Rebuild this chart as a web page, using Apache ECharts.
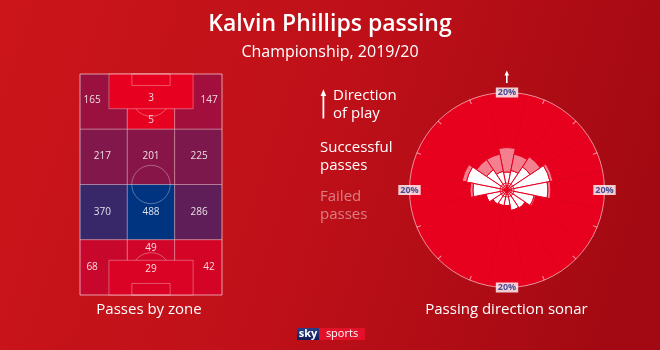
<!DOCTYPE html>
<html>
<head>
<meta charset="utf-8">
<script src="https://cdn.jsdelivr.net/npm/echarts@6/dist/echarts.min.js"></script>
<style>html,body{margin:0;padding:0;}#c{width:660px;height:350px;}</style>
</head>
<body>
<div id="c"></div>
<script>
// ---------- DATA ----------
const zoneNames = ['Final third left','Final third centre','Final third right','Opp. box',
  'Att. mid left','Att. mid centre','Att. mid right',
  'Def. mid left','Def. mid centre','Def. mid right',
  'Def. third left','Def. third centre','Def. third right','Own box'];
const zoneValues = [165, 5, 147, 3, 217, 201, 225, 370, 488, 286, 68, 49, 42, 29];

const sonarDirections = ['N','NNE','NE','ENE','E','ESE','SE','SSE','S','SSW','SW','WSW','W','WNW','NW','NNW'];
const successfulPct = [3.7, 4.1, 5.7, 9.0, 8.4, 5.7, 4.5, 4.3, 3.2, 3.3, 3.5, 4.4, 7.0, 8.5, 5.0, 3.9];
const failedPct     = [5.0, 3.4, 2.5, 0.6, 0.6, 0.3, 0, 0, 0, 0, 0, 0, 0.6, 0.9, 2.5, 3.6];
const sonarScaleLabel = '20%';
const sonarScaleDirections = ['N','E','S','W'];
const sonarMax = 20;

// ---------- LAYOUT (pitch units: 68 wide x 105 long, y=0 attacking goal line) ----------
const PW = 68, PL = 105, c1 = PW/3, c2 = 2*PW/3, rw = PL/4;
const boxL = 13.84, boxR = 54.16, boxD = 16.5;
const zoneRects = [
  [0,0,c1,rw],[c1,0,c2,rw],[c2,0,PW,rw],[boxL,0,boxR,boxD],
  [0,rw,c1,2*rw],[c1,rw,c2,2*rw],[c2,rw,PW,2*rw],
  [0,2*rw,c1,3*rw],[c1,2*rw,c2,3*rw],[c2,2*rw,PW,3*rw],
  [0,3*rw,c1,PL],[c1,3*rw,c2,PL],[c2,3*rw,PW,PL],[boxL,PL-boxD,boxR,PL]
];
const zoneLabelPos = [
  [5.8,12.4],[34,21.9],[61.8,12.4],[34,11.4],
  [10.7,39],[34,39],[57,39],
  [10.7,65.6],[34,65.6],[57,65.6],
  [5.8,91.7],[34,82.7],[61.8,91.7],[34,92.8]
];

const lineCol = 'rgba(255,255,255,0.32)';

const chart = echarts.init(document.getElementById('c'), null, {renderer:'canvas'});
const FONT = '"Open Sans", "DejaVu Sans", sans-serif';

function zoneRender(params, api){
  const i = params.dataIndex;
  const r = zoneRects[i];
  const p0 = api.coord([r[0], r[1]]), p1 = api.coord([r[2], r[3]]);
  const lp = api.coord(zoneLabelPos[i]);
  return {type:'group', children:[
    {type:'rect', shape:{x:Math.min(p0[0],p1[0]), y:Math.min(p0[1],p1[1]), width:Math.abs(p1[0]-p0[0]), height:Math.abs(p1[1]-p0[1])},
     style:{fill: api.visual('color'), stroke: lineCol, lineWidth: 1}},
    {type:'text', x: lp[0], y: lp[1], style:{text: String(api.value(0)), fill:'rgba(255,255,255,0.85)', font:'10px '+FONT, align:'center', verticalAlign:'middle'}}
  ]};
}

function pitchRender(params, api){
  const st = {fill:'none', stroke: lineCol, lineWidth: 1};
  const R = 9.15;
  const rpx = (api.size([R, R])[0] + api.size([R, R])[1]) / 2;
  const pt = (x,y)=>api.coord([x,y]);
  const rect = (x0,y0,x1,y1)=>{const a=pt(x0,y0), b=pt(x1,y1); return {type:'rect', shape:{x:Math.min(a[0],b[0]), y:Math.min(a[1],b[1]), width:Math.abs(b[0]-a[0]), height:Math.abs(b[1]-a[1])}, style:st};};
  const ang = Math.acos(5.5/R);
  const topSpot = pt(34, 11), botSpot = pt(34, PL-11), mid = pt(34, PL/2);
  return {type:'group', children:[
    rect(0,0,PW,PL),
    rect(24.84,0,43.16,5.5),
    rect(24.84,PL-5.5,43.16,PL),
    {type:'arc', shape:{cx:topSpot[0], cy:topSpot[1], r:rpx, startAngle:Math.PI/2-ang, endAngle:Math.PI/2+ang, clockwise:true}, style:st},
    {type:'arc', shape:{cx:botSpot[0], cy:botSpot[1], r:rpx, startAngle:-Math.PI/2-ang, endAngle:-Math.PI/2+ang, clockwise:true}, style:st},
    {type:'circle', shape:{cx:mid[0], cy:mid[1], r:rpx}, style:st}
  ]};
}

const txt = (t, x, y, size, color, extra) => ({type:'text', x:x, y:y, style:Object.assign({text:t, fill:color, font: size+'px '+FONT, textVerticalAlign:'middle'}, extra||{})});

// tick marks on the sonar rim, one per direction
const rimTicks = sonarDirections.map((d, i) => ({value:[sonarMax - 0.45, d], symbolRotate: -22.5 * i}));

const option = {
  backgroundColor: {type:'linear', x:0, y:0, x2:1, y2:0.6, colorStops:[{offset:0, color:'#cb151a'},{offset:0.5,color:'#bf1019'},{offset:1, color:'#a20912'}]},
  animation: false,
  title: [
    {text:'Kalvin Phillips passing', left:'center', top:8, textStyle:{color:'#fff', fontSize:23, fontWeight:600, fontFamily:FONT}},
    {text:'Championship, 2019/20', left:'center', top:39, textStyle:{color:'#fff', fontSize:16, fontWeight:'normal', fontFamily:FONT}}
  ],
  grid: {left:80, top:74, width:142, height:221},
  xAxis: {type:'value', min:0, max:PW, show:false},
  yAxis: {type:'value', min:0, max:PL, inverse:true, show:false},
  visualMap: {show:false, type:'continuous', min:0, max:488, dimension:0, seriesIndex:0, inRange:{color:['#e8001f','#003380']}},
  polar: {center:[507,190], radius:97.5},
  angleAxis: {type:'category', data:sonarDirections, startAngle:101.25, clockwise:true, boundaryGap:true,
    axisLine:{show:true, lineStyle:{color:'rgba(255,255,255,0.55)', width:1}},
    axisTick:{show:false},
    axisLabel:{show:false}, splitLine:{show:false},
    splitArea:{show:true, areaStyle:{color:['#e8001f','#e8001f']}}},
  radiusAxis: {type:'value', min:0, max:sonarMax, show:false, splitLine:{show:false}, axisLine:{show:false}, axisLabel:{show:false}, axisTick:{show:false}},
  series: [
    {type:'custom', name:'zones', coordinateSystem:'cartesian2d', renderItem: zoneRender,
      data: zoneValues.map((v,i)=>({name:zoneNames[i], value:[v, i]})), encode:{x:-1, y:-1}, silent:true, z:2},
    {type:'custom', name:'pitch', coordinateSystem:'cartesian2d', renderItem: pitchRender, data:[[0,0]], silent:true, z:3},
    {type:'bar', name:'Successful passes', coordinateSystem:'polar', stack:'sonar', data: successfulPct, barCategoryGap:'0%',
      itemStyle:{color:'#ffffff', borderColor:'#e8001f', borderWidth:1}, z:4, silent:true},
    {type:'bar', name:'Failed passes', coordinateSystem:'polar', stack:'sonar', data: failedPct, barCategoryGap:'0%',
      itemStyle:{color:'rgba(255,255,255,0.5)', borderColor:'#e8001f', borderWidth:1}, z:4, silent:true},
    {type:'scatter', coordinateSystem:'polar', data: rimTicks, symbol:'rect', symbolSize:[1,4.5], itemStyle:{color:'rgba(255,255,255,0.75)'}, z:5, silent:true},
    {type:'scatter', coordinateSystem:'polar', data:[[0,'N']], symbol:'circle', symbolSize:4, itemStyle:{color:'#e8001f'}, z:6, silent:true},
    {type:'scatter', coordinateSystem:'polar', data:[[0,'N']], symbol:'circle', symbolSize:9, itemStyle:{color:'rgba(0,0,0,0)', borderColor:'#e8001f', borderWidth:1.2}, z:6, silent:true},
    {type:'scatter', coordinateSystem:'polar', data:[[0,'N']], symbol:'circle', symbolSize:14, itemStyle:{color:'rgba(0,0,0,0)', borderColor:'#e8001f', borderWidth:1.2}, z:6, silent:true},
    {type:'scatter', coordinateSystem:'polar', data: sonarScaleDirections.map(d=>[sonarMax, d]), symbolSize:1, itemStyle:{color:'rgba(0,0,0,0)'}, z:8, silent:true,
      label:{show:true, position:'inside', formatter: sonarScaleLabel, backgroundColor:'#ffffff', color:'#1f2a80', fontSize:9, fontWeight:'bold', fontFamily:FONT, padding:[1,2,0,2], lineHeight:9}}
  ],
  graphic: [
    {type:'polygon', shape:{points:[[504.5,75.5],[506.8,70.5],[509.1,75.5]]}, style:{fill:'#fff'}},
    {type:'rect', shape:{x:506, y:75, width:1.6, height:8}, style:{fill:'#fff'}},
    {type:'polygon', shape:{points:[[320.6,96],[323.4,89.3],[326.2,96]]}, style:{fill:'#fff'}},
    {type:'rect', shape:{x:322.5, y:95.5, width:1.8, height:23}, style:{fill:'#fff'}},
    txt('Direction', 333, 96, 15, '#fff'),
    txt('of play', 333, 114, 15, '#fff'),
    txt('Successful', 320, 148, 15, '#fff'),
    txt('passes', 320, 166, 15, '#fff'),
    txt('Failed', 320, 197, 15, 'rgba(255,255,255,0.45)'),
    txt('passes', 320, 215, 15, 'rgba(255,255,255,0.45)'),
    txt('Passes by zone', 149, 310, 15, '#fff', {textAlign:'center'}),
    txt('Passing direction sonar', 506.5, 310, 15, '#fff', {textAlign:'center'}),
    {type:'rect', shape:{x:297, y:328, width:22, height:12}, style:{fill:{type:'linear',x:0,y:0,x2:0,y2:1,colorStops:[{offset:0,color:'#2a3f86'},{offset:1,color:'#101c5a'}]}}},
    {type:'rect', shape:{x:319, y:328, width:46, height:12}, style:{fill:'#e3102a'}},
    txt('sky', 308, 334, 11, '#fff', {textAlign:'center', font:'bold 11px '+FONT}),
    txt('sports', 342, 333.5, 11, '#fff', {textAlign:'center'})
  ]
};
chart.setOption(option);
</script>
</body>
</html>
